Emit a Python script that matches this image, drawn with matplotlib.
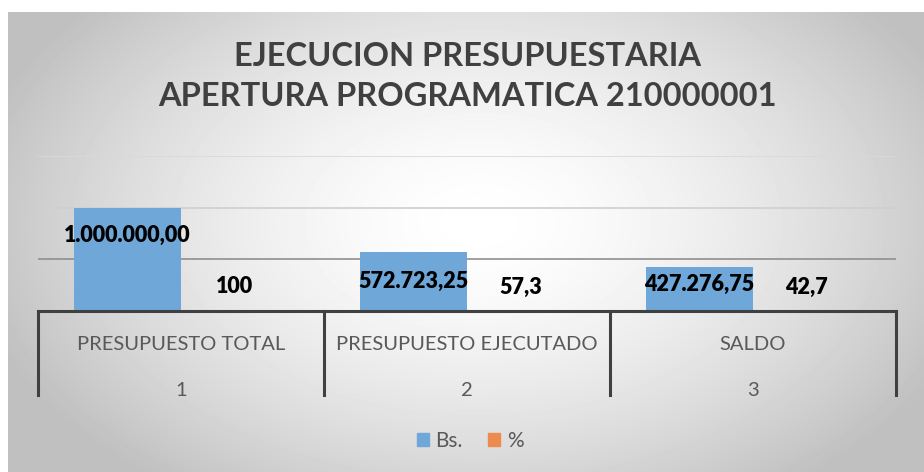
import numpy as np
import matplotlib
matplotlib.use("Agg")
import matplotlib.pyplot as plt
from matplotlib.patches import Patch

categories = ["PRESUPUESTO TOTAL", "PRESUPUESTO EJECUTADO", "SALDO"]
sub_labels = ["1", "2", "3"]
bs_values = [1000000.00, 572723.25, 427276.75]
pct_values = [100, 57.3, 42.7]
bs_text = ["1.000.000,00", "572.723,25", "427.276,75"]
pct_text = ["100", "57,3", "42,7"]
bs_label_drop = [28, 30, 18]  # px below bar top, as placed in the original

plt.rcParams["font.family"] = ["Lato", "DejaVu Sans"]

W, H = 924, 472
fig = plt.figure(figsize=(W / 100, H / 100), dpi=100)

# radial background of the chart area
bg = fig.add_axes([8 / W, 0, 1 - 8 / W, 1 - 12 / H], zorder=0)
yy, xx = np.mgrid[0:460, 0:916]
d = np.sqrt(((xx - 470) / 520) ** 2 + ((yy - 210) / 330) ** 2)
t = np.clip(d, 0, 1) ** 1.6
grey = 1 - t * (1 - 0.75)
bg.imshow(grey, cmap="gray", vmin=0, vmax=1, aspect="auto", interpolation="bilinear")
bg.axis("off")

ax = fig.add_axes([38 / W, (H - 311) / H, (896 - 38) / W, (311 - 156) / H], zorder=2)
ax.patch.set_alpha(0)

x = np.arange(len(categories))
w = 0.374
ax.bar(x - w / 2, bs_values, w, color="#6fa7d9", zorder=2)
ax.bar(x + w / 2, pct_values, w, color="#ed8a4f", zorder=2)
ax.set_xlim(-0.5, 2.5)
ax.set_ylim(0, 1500000)
for yv, c in zip([500000, 1000000, 1500000], ["#8f8f8f", "#cfcfcf", "#d9d9d9"]):
    ax.axhline(yv, color=c, lw=1.2, zorder=1)
for s in ax.spines.values():
    s.set_visible(False)
ax.set_xticks([])
ax.set_yticks([])

for xi, v, txt, drop in zip(x, bs_values, bs_text, bs_label_drop):
    ax.annotate(txt, (xi - w / 2, v), xytext=(0, -drop * 0.72), textcoords="offset points",
                ha="center", va="center", fontsize=15.5, fontweight="heavy", color="black", zorder=3)
for xi, v, txt in zip(x, pct_values, pct_text):
    ax.annotate(txt, (xi + w / 2, v), xytext=(0, 24 * 0.72), textcoords="offset points",
                ha="center", va="center", fontsize=15.5, fontweight="heavy", color="black", zorder=3)

# multi-level category axis
tr = ax.get_xaxis_transform()
axis_col = "#404040"
ax.plot([-0.5, 2.5], [0, 0], color=axis_col, lw=2.2, transform=tr, clip_on=False, zorder=4,
        solid_capstyle="projecting")
for xb in [-0.5, 0.5, 1.5, 2.5]:
    ax.plot([xb, xb], [0, -84 / 155], color=axis_col, lw=2.2, transform=tr, clip_on=False, zorder=4)
for xi, cat, sub in zip(x, categories, sub_labels):
    ax.text(xi, -33 / 155, cat, transform=tr, ha="center", va="center", fontsize=14.5, color="#595959")
    ax.text(xi, -79 / 155, sub, transform=tr, ha="center", va="center", fontsize=14.5, color="#595959")

fig.text(467 / W, 1 - 57 / H, "EJECUCION PRESUPUESTARIA", ha="center", va="center",
         fontsize=23.5, fontweight="bold", color="#404040", zorder=5)
fig.text(467 / W, 1 - 97 / H, "APERTURA PROGRAMATICA 210000001", ha="center", va="center",
         fontsize=23.5, fontweight="bold", color="#404040", zorder=5)

handles = [Patch(color="#6fa7d9", label="Bs."), Patch(color="#ed8a4f", label="%")]
fig.legend(handles=handles, loc="center", bbox_to_anchor=(470 / W, 1 - 441 / H), ncol=2,
           frameon=False, fontsize=15, handlelength=0.6, handleheight=0.6,
           handletextpad=0.3, columnspacing=1.2, labelcolor="#595959")

fig.savefig("out.png", dpi=100)
